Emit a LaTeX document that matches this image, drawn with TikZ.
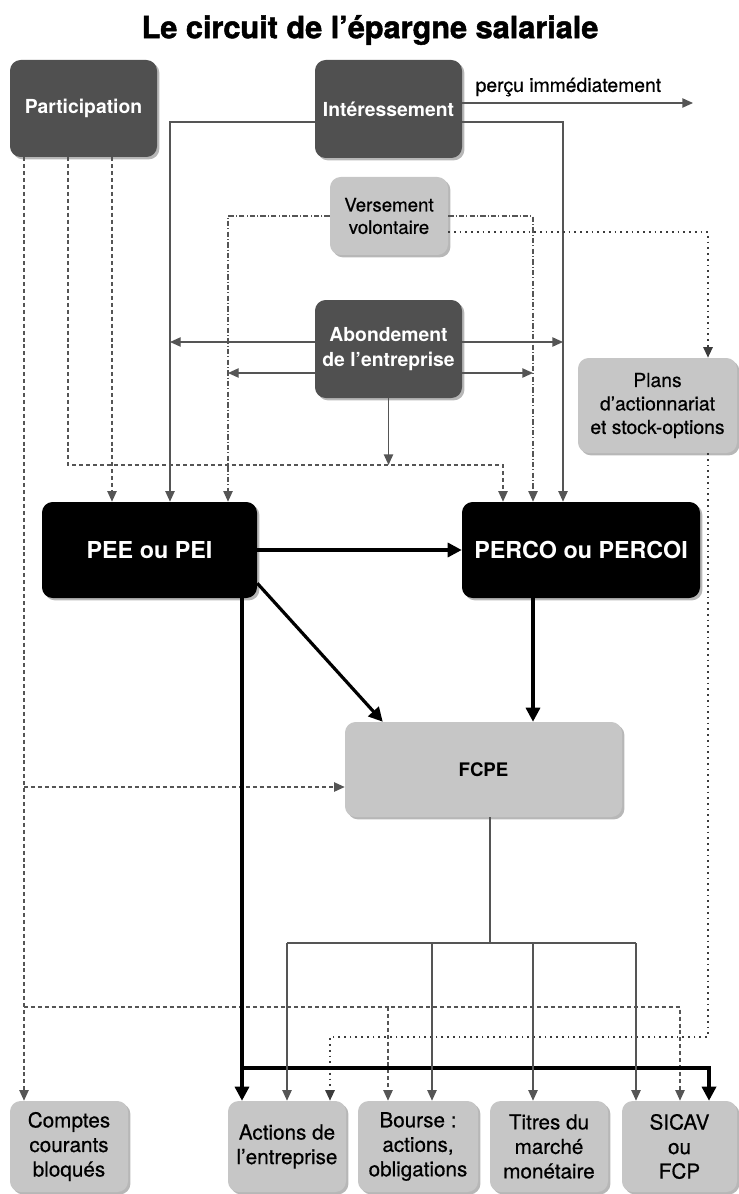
\documentclass[tikz,border=0pt]{standalone}
\usepackage{fontspec}
\setmainfont{TeX Gyre Heros}
\newfontfamily\mediumfont[FakeBold=0.5]{TeX Gyre Heros}
\newfontfamily\heavyfont[BoldFeatures={FakeBold=1.6}]{TeX Gyre Heros}
\usetikzlibrary{positioning,arrows.meta,calc,shadows}
\definecolor{boxdark}{HTML}{505050}
\definecolor{boxlight}{HTML}{C6C6C6}
\definecolor{linegray}{HTML}{555555}
\tikzset{boxsize/.style 2 args={minimum width=#1*0.75pt,minimum height=#2*0.75pt}}

\begin{document}
\begin{tikzpicture}[x=0.75pt,y=-0.75pt,
 >={Triangle[width=7pt,length=8pt]},
 basebox/.style={rectangle,rounded corners=8pt,inner sep=0pt,align=center,
   drop shadow={shadow xshift=1.8pt,shadow yshift=-1.8pt,fill=black!40,opacity=0.7}},
 darkbox/.style={basebox,fill=boxdark,text=white,font=\fontsize{14.5}{18.5}\selectfont\bfseries},
 lightbox/.style={basebox,fill=boxlight,text=black,font=\fontsize{14}{16.8}\selectfont\mediumfont},
 blackbox/.style={basebox,fill=black,text=white,font=\fontsize{17.5}{20}\selectfont\bfseries},
 endbox/.style={basebox,fill=boxlight,text=black,font=\fontsize{15.5}{18.4}\selectfont\mediumfont},
 titletext/.style={font=\fontsize{23}{26}\selectfont\heavyfont\bfseries},
 flowsolid/.style={draw=linegray,line width=1pt},
 flowdash/.style={draw=linegray,line width=1pt,dash pattern=on 3pt off 2.2pt},
 flowdashdot/.style={draw=linegray,line width=0.9pt,dash pattern=on 4pt off 1.6pt on 0.8pt off 1.6pt},
 flowdot/.style={draw=linegray!70!black,line width=1.4pt,dash pattern=on 1.3pt off 3pt},
 flowthick/.style={draw=black,line width=2.4pt,-{Triangle[width=10.5pt,length=10.5pt]}}]
\useasboundingbox (0,0) rectangle (738,1194);

% boxes
\node[titletext] (title) at (370,30) {Le circuit de l’épargne salariale};
\node[darkbox,boxsize={147}{97}] (part) at (83.5,108.5) {Participation};
\node[darkbox,boxsize={147}{98}] (inter) at (388.5,109) {Intéressement};
\node[lightbox,boxsize={118}{78}] (vers) at (389,216) {Versement\\volontaire};
\node[darkbox,boxsize={147}{98}] (abond) at (388.5,349) {Abondement\\de l’entreprise};
\node[lightbox,boxsize={159}{95},font=\fontsize{14.5}{17.6}\selectfont\mediumfont] (plans) at (657.5,405.5) {Plans\\d’actionnariat\\et stock-options};
\node[blackbox,boxsize={215}{96}] (pee) at (149.5,550) {PEE ou PEI};
\node[blackbox,boxsize={238}{96}] (perco) at (581,550) {PERCO ou PERCOI};
\node[lightbox,boxsize={277}{95},font=\fontsize{14}{16}\selectfont\bfseries] (fcpe) at (483.5,769.5) {FCPE};
\node[endbox,boxsize={118}{91}] (comptes) at (69,1146.5) {Comptes\\courants\\bloqués};
\node[endbox,boxsize={118}{91}] (actions) at (287,1146.5) {Actions de\\l’entreprise};
\node[endbox,boxsize={120}{91}] (bourse) at (418,1146.5) {Bourse :\\actions,\\obligations};
\node[endbox,boxsize={118}{91}] (titres) at (549,1146.5) {Titres du\\marché\\monétaire};
\node[endbox,boxsize={115}{91}] (sicav) at (679.5,1146.5) {SICAV\\ou\\FCP};

\coordinate (percu) at (693,103);
\coordinate (abup) at (0,342);
\coordinate (ablow) at (0,373);
\coordinate (dashrow) at (0,465);

% Interessement
\draw[flowsolid,->] (inter.east |- percu) -- (percu)
  node[pos=0.46,above=3pt,inner sep=1.5pt,font=\fontsize{14.5}{16}\selectfont\mediumfont] {perçu immédiatement};
\draw[flowsolid,->] ($(inter.west)+(0,13)$) -| (pee.north -| 170,0);
\draw[flowsolid,->] ($(inter.east)+(0,13)$) -| (perco.north -| 563,0);

% Versement volontaire
\draw[flowdashdot,->] (vers.west) -| (pee.north -| 228,0);
\draw[flowdashdot,->] (vers.east) -| (perco.north -| 533,0);
\draw[flowdot,->] ($(vers.east)+(0,16)$) -| (plans.north -| 708,0);

% Abondement
\draw[flowsolid,->] (abond.west |- abup) -- (170,0 |- abup);
\draw[flowsolid,->] (abond.east |- abup) -- (563,0 |- abup);
\draw[flowsolid,->] (abond.west |- ablow) -- (228,0 |- ablow);
\draw[flowsolid,->] (abond.east |- ablow) -- (533,0 |- ablow);
\draw[flowsolid,->] (abond.south) -- (abond.south |- dashrow);

% Participation
\draw[flowdash,->] (part.south -| 24,0) -- (comptes.north -| 24,0);
\draw[flowdash,->] (part.south -| 68,0) |- (503,0 |- dashrow) -- (perco.north -| 503,0);
\draw[flowdash,->] (part.south -| 112,0) -- (pee.north -| 112,0);
\draw[flowdash,->] (24,787) -- (fcpe.west |- 0,787);
\draw[flowdash,->] (24,1007) -| (sicav.north -| 680,0);
\draw[flowdash,->] (388,1007) -- (bourse.north -| 388,0);

% Plans d'actionnariat
\draw[flowdot,->] (plans.south -| 708,0) |- (330,1037) -- (actions.north -| 330,0);

% PEE / PERCO
\draw[flowthick] (pee.east) -- (perco.west);
\draw[flowthick] ($(pee.south east)+(0,-15)$) -- ($(fcpe.north west)+(38,0)$);
\draw[flowthick] (perco.south -| 533,0) -- (fcpe.north -| 533,0);
\draw[flowthick] (pee.south -| 242,0) -- (actions.north -| 242,0);
\draw[flowthick] (242,1068) -| (sicav.north -| 709,0);

% FCPE
\draw[flowsolid] (fcpe.south -| 490,0) -- (490,943) (287,943) -- (636,943);
\foreach \dest/\x in {actions/287,bourse/432,titres/533,sicav/636}
  \draw[flowsolid,->] (\x,943) -- (\dest.north -| \x,0);
\end{tikzpicture}
\end{document}
